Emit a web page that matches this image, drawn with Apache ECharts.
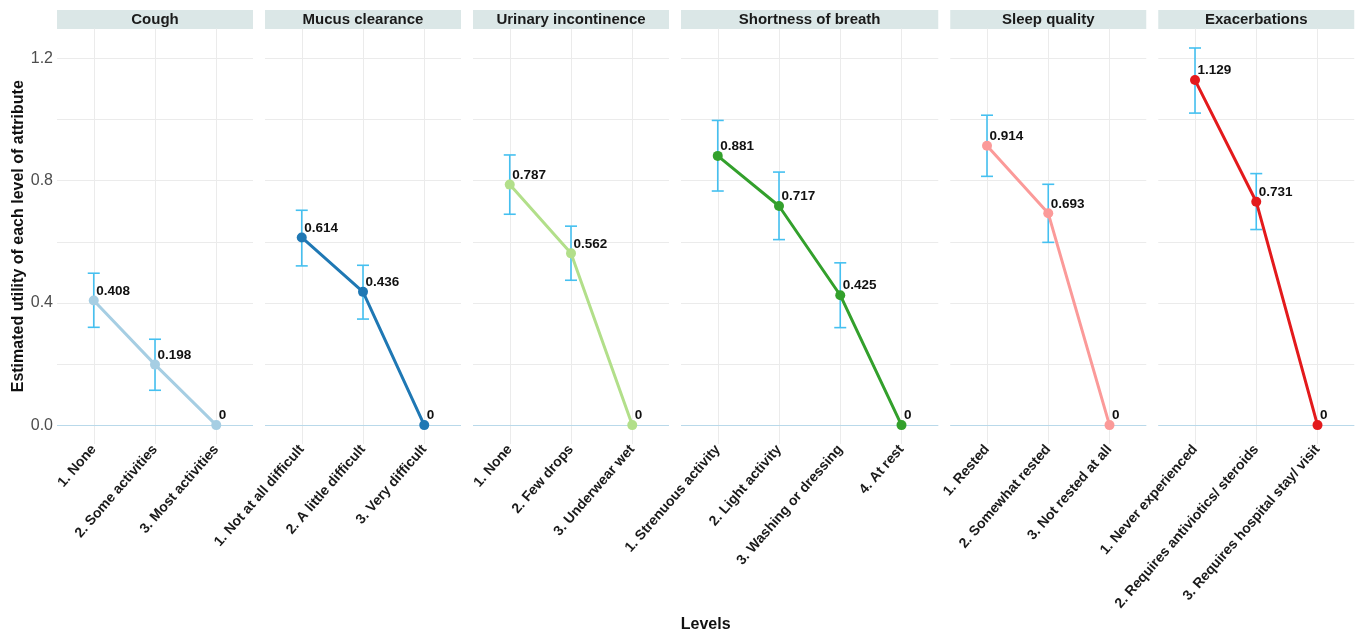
<!DOCTYPE html>
<html>
<head>
<meta charset="utf-8">
<script src="https://cdn.jsdelivr.net/npm/echarts@6/dist/echarts.min.js"></script>
<style>
html,body{margin:0;padding:0;background:#fff;}
#chart{width:1357px;height:633px;}
</style>
</head>
<body>
<div id="chart"></div>
<script>
// ---------------- DATA ----------------
const panelTitles = ['Cough', 'Mucus clearance', 'Urinary incontinence', 'Shortness of breath', 'Sleep quality', 'Exacerbations'];

const coughLevels = ['1. None', '2. Some activities', '3. Most activities'];
const coughUtility = [0.408, 0.198, 0];
const coughLower = [0.320, 0.114, null];
const coughUpper = [0.497, 0.281, null];

const mucusLevels = ['1. Not at all difficult', '2. A little difficult', '3. Very difficult'];
const mucusUtility = [0.614, 0.436, 0];
const mucusLower = [0.521, 0.347, null];
const mucusUpper = [0.703, 0.523, null];

const urinaryLevels = ['1. None', '2. Few drops', '3. Underwear wet'];
const urinaryUtility = [0.787, 0.562, 0];
const urinaryLower = [0.690, 0.474, null];
const urinaryUpper = [0.884, 0.651, null];

const breathLevels = ['1. Strenuous activity', '2. Light activity', '3. Washing or dressing', '4. At rest'];
const breathUtility = [0.881, 0.717, 0.425, 0];
const breathLower = [0.766, 0.607, 0.319, null];
const breathUpper = [0.997, 0.828, 0.531, null];

const sleepLevels = ['1. Rested', '2. Somewhat rested', '3. Not rested at all'];
const sleepUtility = [0.914, 0.693, 0];
const sleepLower = [0.814, 0.598, null];
const sleepUpper = [1.014, 0.788, null];

const exacLevels = ['1. Never experienced', '2. Requires antiviotics/ steroids', '3. Requires hospital stay/ visit'];
const exacUtility = [1.129, 0.731, 0];
const exacLower = [1.021, 0.640, null];
const exacUpper = [1.234, 0.823, null];

const yTickLabels = [0, 0.4, 0.8, 1.2];
const yGridValues = [0, 0.2, 0.4, 0.6, 0.8, 1.0, 1.2];

const panelColors = ['#A6CEE3', '#1F78B4', '#B2DF8A', '#33A02C', '#FB9A99', '#E31A1C'];

// ---------------- BUILD ----------------
const panels = [
  {levels: coughLevels, u: coughUtility, lo: coughLower, hi: coughUpper},
  {levels: mucusLevels, u: mucusUtility, lo: mucusLower, hi: mucusUpper},
  {levels: urinaryLevels, u: urinaryUtility, lo: urinaryLower, hi: urinaryUpper},
  {levels: breathLevels, u: breathUtility, lo: breathLower, hi: breathUpper},
  {levels: sleepLevels, u: sleepUtility, lo: sleepLower, hi: sleepUpper},
  {levels: exacLevels, u: exacUtility, lo: exacLower, hi: exacUpper}
];

const FONT = '"Liberation Sans", Arial, Helvetica, sans-serif';
const UNIT = 61.25, GAP = 12, LEFT0 = 57, TOP = 28.5, BOTTOM_Y = 444;
const YMIN = -0.0618, YMAX = 1.2978;
const ERR_COLOR = '#45C0F0';
const GRID_COLOR = '#EBEBEB';

const grids = [], xAxes = [], yAxes = [], series = [], graphics = [];
let xpos = LEFT0;
panels.forEach((p, i) => {
  const n = p.levels.length;
  const w = (n + 0.2) * UNIT;
  grids.push({left: xpos, top: TOP, width: w, height: BOTTOM_Y - TOP, containLabel: false});
  const idx = p.levels.map((_, k) => k);
  xAxes.push({
    type: 'value', gridIndex: i, min: -0.6, max: n - 1 + 0.6,
    axisLine: {show: false, onZero: false},
    axisTick: {show: false, customValues: idx},
    axisLabel: {
      show: true, customValues: idx, rotate: 49, margin: 3,
      formatter: v => p.levels[Math.round(v)],
      color: '#1a1a1a', fontWeight: 'bold', fontSize: 14, fontFamily: FONT
    },
    splitLine: {show: true, lineStyle: {color: GRID_COLOR, width: 1}}
  });
  yAxes.push({
    type: 'value', gridIndex: i, min: YMIN, max: YMAX,
    axisLine: {show: false},
    axisTick: {show: false, customValues: yGridValues},
    axisLabel: {
      show: i === 0, customValues: yTickLabels, margin: 4,
      formatter: v => v.toFixed(1), color: '#4D4D4D', fontSize: 16, fontFamily: FONT
    },
    splitLine: {show: true, lineStyle: {color: GRID_COLOR, width: 1}},
    name: i === 0 ? 'Estimated utility of each level of attribute' : '',
    nameLocation: 'middle', nameRotate: 90, nameGap: 30,
    nameTextStyle: {fontWeight: 'bold', fontSize: 16, color: '#111', fontFamily: FONT}
  });

  // error bars
  const errData = [];
  p.u.forEach((v, k) => { if (p.lo[k] != null) errData.push([k, p.lo[k], p.hi[k]]); });
  series.push({
    type: 'custom', xAxisIndex: i, yAxisIndex: i, z: 2, silent: true,
    data: errData,
    encode: {x: 0, y: [1, 2]},
    renderItem: (params, api) => {
      const xi = api.value(0);
      const a = api.coord([xi, api.value(2)]);
      const b = api.coord([xi, api.value(1)]);
      const hw = 6;
      const st = {stroke: ERR_COLOR, lineWidth: 1.6};
      return {type: 'group', children: [
        {type: 'line', shape: {x1: a[0], y1: a[1], x2: b[0], y2: b[1]}, style: st},
        {type: 'line', shape: {x1: a[0] - hw, y1: a[1], x2: a[0] + hw, y2: a[1]}, style: st},
        {type: 'line', shape: {x1: b[0] - hw, y1: b[1], x2: b[0] + hw, y2: b[1]}, style: st}
      ]};
    }
  });

  // line + points
  series.push({
    type: 'line', xAxisIndex: i, yAxisIndex: i, z: 3,
    data: p.u.map((v, k) => [k, v]),
    symbol: 'circle', symbolSize: 10, showSymbol: true,
    lineStyle: {color: panelColors[i], width: 3},
    itemStyle: {color: panelColors[i]},
    label: {
      show: true, position: [7.5, 2.5], align: 'left', verticalAlign: 'bottom',
      formatter: prm => String(prm.value[1]),
      color: '#111', fontWeight: 'bold', fontSize: 13.5, fontFamily: FONT
    },
    markLine: {
      silent: true, symbol: 'none', z: 1,
      lineStyle: {color: '#B9D9EA', width: 1.2, type: 'solid'},
      label: {show: false},
      data: [{yAxis: 0}]
    },
    animation: false
  });

  // strip
  graphics.push({
    type: 'rect', x: xpos, y: 10, shape: {width: w, height: 19},
    style: {fill: '#DBE7E7'}, silent: true
  });
  graphics.push({
    type: 'text', x: xpos + w / 2, y: 19.5,
    style: {text: panelTitles[i], textAlign: 'center', textVerticalAlign: 'middle',
      font: 'bold 15px ' + FONT, fill: '#1a1a1a'}, silent: true
  });

  xpos += w + GAP;
});

graphics.push({
  type: 'text', x: (LEFT0 + xpos - GAP) / 2, y: 625,
  style: {text: 'Levels', textAlign: 'center', textVerticalAlign: 'middle',
    font: 'bold 16px ' + FONT, fill: '#111'}, silent: true
});

const chart = echarts.init(document.getElementById('chart'), null, {renderer: 'canvas'});
chart.setOption({
  animation: false,
  backgroundColor: '#fff',
  grid: grids,
  xAxis: xAxes,
  yAxis: yAxes,
  series: series,
  graphic: graphics
});
</script>
</body>
</html>
